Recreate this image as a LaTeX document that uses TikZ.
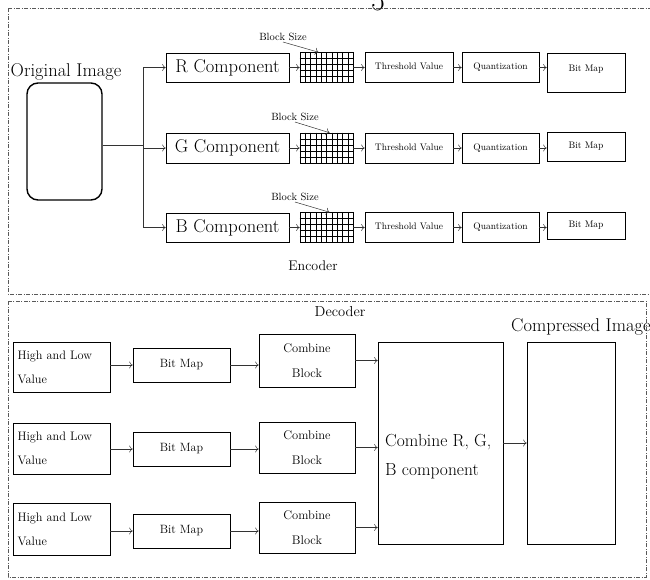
\documentclass[tikz,border=0pt]{standalone}
\usepackage{fontspec}
\usetikzlibrary{calc,arrows.meta}

\tikzset{
  box/.style={draw, line width=0.6pt, inner sep=1pt, align=center},
  pnl/.style={draw=black!65, line width=0.5pt, dash pattern=on 4pt off 1.5pt on 1pt off 1.5pt},
  arr/.style={-{To[length=3.5pt,width=7pt]}, line width=0.5pt, draw=black!80},
}

\begin{document}
\begin{tikzpicture}[x=1pt, y=-1pt]
  \useasboundingbox (0,0) rectangle (650,579);

  % panels
  \draw[pnl] (8,8) -- (662,8);
  \draw[pnl] (8,8) -- (8,294) -- (662,294);
  \draw[pnl] (8,301) rectangle (646,577);
  \node[anchor=base, font=\fontsize{30}{30}\selectfont, inner sep=0pt] (pg) at (378,10) {5};

  % encoder
  \node[font=\fontsize{18.5}{20}\selectfont, inner sep=0pt] (origT) at (66,72) {Original Image};
  \node[draw, line width=1.4pt, rounded corners=11pt, minimum width=75pt, minimum height=117pt] (orig) at (64.5,141.5) {};
  \coordinate (split) at (143,145);

  \foreach \c/\y/\t/\h in {R/67.5/R/29, G/148/G/30, B/227.5/B/29}{
    \node[box, font=\fontsize{18.5}{20}\selectfont, minimum width=123pt, minimum height=\h pt] (comp\c) at (227.5,\y) {\t\ Component};
    \node[draw, line width=0.6pt, minimum width=53pt, minimum height=30pt, inner sep=0pt] (grid\c) at (326.5,\y) {};
    \foreach \i in {1,...,9}
      \draw[line width=0.5pt] ($(grid\c.north west)!\i/10!(grid\c.north east)$) -- ($(grid\c.south west)!\i/10!(grid\c.south east)$);
    \foreach \i in {1,...,4}
      \draw[line width=0.5pt] ($(grid\c.north west)!\i/5!(grid\c.south west)$) -- ($(grid\c.north east)!\i/5!(grid\c.south east)$);
    \node[box, font=\fontsize{9.5}{11}\selectfont, minimum width=88pt, minimum height=30pt] (thr\c) at (409,\y) {\raisebox{2pt}{Threshold Value}};
    \node[box, font=\fontsize{9.5}{11}\selectfont, minimum width=77pt, minimum height=30pt] (quant\c) at (500.5,\y) {\raisebox{2pt}{Quantization}};
    \draw[arr] (split) |- (comp\c.west);
    \draw[arr] (comp\c.east) -- (grid\c.west);
    \draw[arr] (grid\c.east) -- (thr\c.west);
    \draw[arr] (thr\c.east) -- (quant\c.west);
  }
  \draw[line width=0.5pt, draw=black!80] (orig.east |- split) -- (split);

  \node[box, font=\fontsize{9.5}{11}\selectfont, minimum width=78pt, minimum height=39pt] (bitR) at (586,72.5) {\raisebox{9pt}{Bit Map}};
  \node[box, font=\fontsize{9.5}{11}\selectfont, minimum width=78pt, minimum height=29pt] (bitG) at (586,146.5) {Bit Map};
  \node[box, font=\fontsize{9.5}{11}\selectfont, minimum width=78pt, minimum height=27pt] (bitB) at (586,225.5) {Bit Map};
  \draw[arr] (quantR.east) -- (quantR.east -| bitR.west);
  \draw[arr] (quantG.east) -- (quantG.east -| bitG.west);
  \draw[arr] (quantB.east) -- (quantB.east -| bitB.west);

  \node[font=\fontsize{10.5}{12}\selectfont, inner sep=1pt] (bsR) at (283,37) {Block Size};
  \node[font=\fontsize{10.5}{12}\selectfont, inner sep=1pt] (bsG) at (295,117) {Block Size};
  \node[font=\fontsize{10.5}{12}\selectfont, inner sep=1pt] (bsB) at (295,197) {Block Size};
  \draw[arr] (bsR.south) -- ([xshift=-8pt]gridR.north);
  \draw[arr] (bsG.south) -- ([xshift=3pt]gridG.north);
  \draw[arr] (bsB.south) -- ([xshift=3pt]gridB.north);

  \node[font=\fontsize{14}{16}\selectfont] (enc) at (313,266) {Encoder};

  % decoder
  \node[font=\fontsize{14.5}{16}\selectfont] (dec) at (340,312) {Decoder};
  \node[box, minimum width=125pt, minimum height=202pt] (rgb) at (440.5,443) {};
  \node[font=\fontsize{17.5}{29}\selectfont, align=left, anchor=west, inner sep=0pt] (rgbT) at (385,457) {Combine R, G,\\B component};
  \node[box, minimum width=88pt, minimum height=202pt] (out) at (571,443) {};
  \node[font=\fontsize{18.5}{20}\selectfont, anchor=west, inner sep=0pt] (outT) at (511,327) {Compressed Image};
  \draw[arr] (rgb.east) -- (out.west);

  \foreach \k/\ya/\yb/\yc/\ha/\hc in {1/367/365/360.5/50/53, 2/448.5/449/447.5/51/51, 3/529/531/527.5/52/51}{
    \node[box, font=\fontsize{12.3}{24}\selectfont, align=left, text width=88pt, minimum width=97pt, minimum height=\ha pt] (hl\k) at (61.5,\ya) {High and Low\\Value};
    \node[box, font=\fontsize{12}{14}\selectfont, minimum width=97pt, minimum height=34pt] (bm\k) at (181.5,\yb) {Bit Map};
    \node[box, font=\fontsize{12.5}{25}\selectfont, minimum width=96pt, minimum height=\hc pt] (cb\k) at (307,\yc) {Combine\\Block};
    \draw[arr] (hl\k.east |- bm\k.west) -- (bm\k.west);
    \draw[arr] (bm\k.east) -- (cb\k.west |- bm\k.east);
    \draw[arr] (cb\k.east) -- (cb\k.east -| rgb.west);
  }
\end{tikzpicture}
\end{document}
